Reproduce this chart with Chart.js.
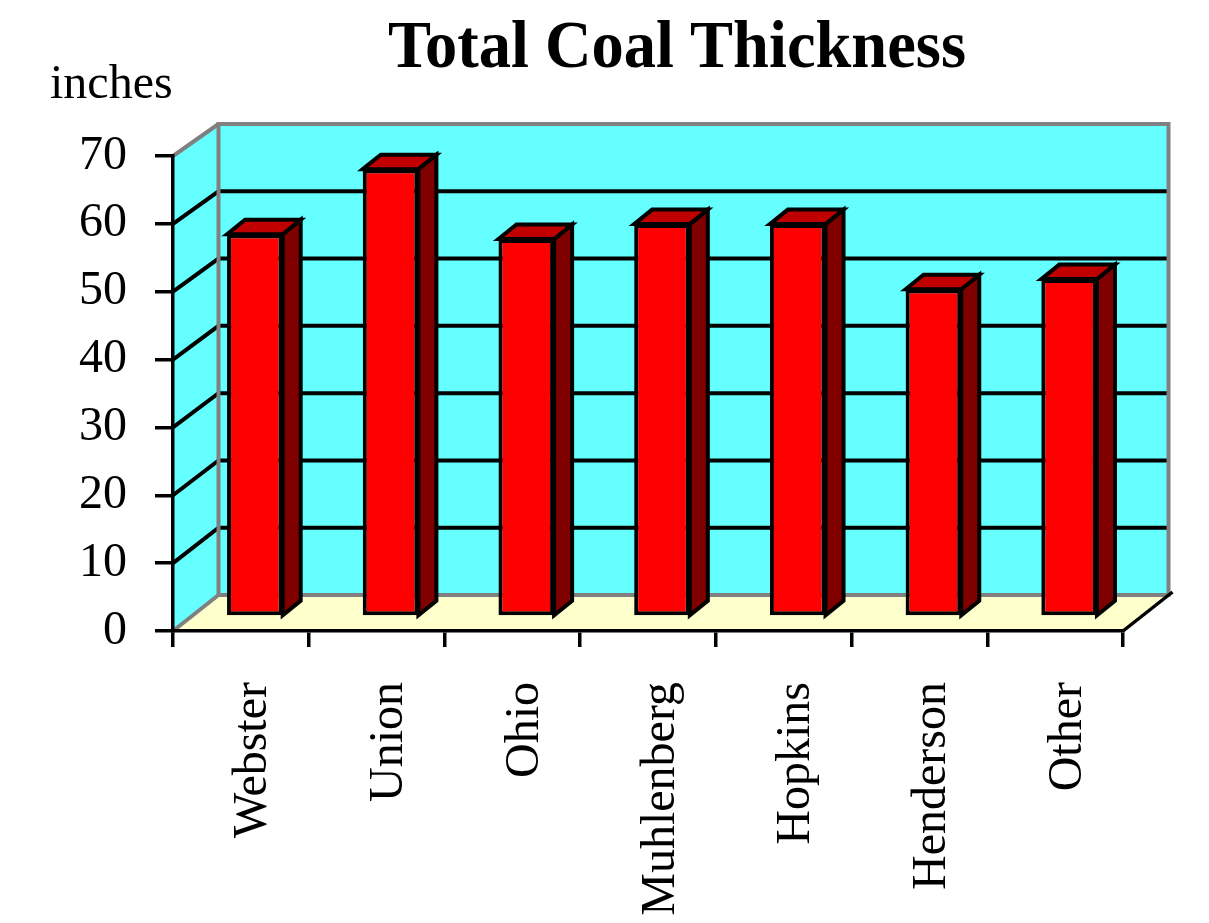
<!DOCTYPE html>
<html>
<head>
<meta charset="utf-8">
<title>Total Coal Thickness</title>
<script src="https://cdn.jsdelivr.net/npm/chart.js@4/dist/chart.umd.min.js"></script>
<style>
    html, body { margin: 0; padding: 0; background: #fff; }
    canvas { display: block; }
</style>
</head>
<body>
<canvas id="coalChart" width="1209" height="923"></canvas>
<script>
// Chart data
const counties = ['Webster', 'Union', 'Ohio', 'Muhlenberg', 'Hopkins', 'Henderson', 'Other'];
const thickness = [56.4, 66, 55.7, 57.9, 57.9, 48.3, 49.8];
const yTicks = [0, 10, 20, 30, 40, 50, 60, 70];
const chartTitle = 'Total Coal Thickness';
const unitLabel = 'inches';

// Colors
const colors = {
    front: '#FF0000',
    top: '#C00000',
    side: '#800000',
    wall: '#66FFFF',
    floor: '#FFFFCC',
    frame: '#808080',
    line: '#000000'
};

// 3D settings (pixels)
const wallDepth = { dx: 45.5, dyBottom: 36, dyTop: 32 };
const barShift = { dx: 14, dy: -14 };
const barDepth = { dx: 18, dy: -14.5 };

// y position of a front-plane pixel projected onto the back wall
function backY(area, yPix) {
    const t = (area.bottom - yPix) / (area.bottom - area.top);
    return yPix - (wallDepth.dyBottom + (wallDepth.dyTop - wallDepth.dyBottom) * t);
}

function poly(ctx, pts) {
    ctx.beginPath();
    ctx.moveTo(pts[0][0], pts[0][1]);
    for (let i = 1; i < pts.length; i++) ctx.lineTo(pts[i][0], pts[i][1]);
    ctx.closePath();
}

// Walls, floor, grid and texts
const wallsPlugin = {
    id: 'walls3d',
    beforeDraw(chart) {
        const { ctx, chartArea: a, scales: { y } } = chart;
        const bl = a.left + wallDepth.dx;
        const br = a.right + wallDepth.dx;
        const bt = backY(a, a.top);
        const bb = backY(a, a.bottom);

        ctx.save();
        // back wall
        ctx.fillStyle = colors.wall;
        ctx.fillRect(bl, bt, br - bl, bb - bt);
        // left wall
        poly(ctx, [[a.left, a.top], [bl, bt], [bl, bb], [a.left, a.bottom]]);
        ctx.fill();
        // floor
        ctx.fillStyle = colors.floor;
        poly(ctx, [[a.left, a.bottom], [a.right, a.bottom], [br, bb], [bl, bb]]);
        ctx.fill();

        // grid lines
        ctx.strokeStyle = colors.line;
        ctx.lineWidth = 4;
        yTicks.slice(1, -1).forEach(v => {
            const yf = y.getPixelForValue(v);
            const yb = backY(a, yf);
            ctx.beginPath();
            ctx.moveTo(a.left, yf);
            ctx.lineTo(bl, yb);
            ctx.lineTo(br, yb);
            ctx.stroke();
        });

        // gray frame
        ctx.strokeStyle = colors.frame;
        ctx.lineWidth = 4;
        ctx.strokeRect(bl, bt, br - bl, bb - bt);
        ctx.beginPath();
        ctx.moveTo(a.left, a.top);
        ctx.lineTo(bl, bt);
        ctx.moveTo(a.left, a.bottom);
        ctx.lineTo(bl, bb);
        ctx.stroke();

        // floor right edge
        ctx.strokeStyle = colors.line;
        ctx.lineWidth = 3.5;
        ctx.beginPath();
        ctx.moveTo(a.right, a.bottom);
        ctx.lineTo(br + 4, bb - 3);
        ctx.stroke();
        ctx.restore();
    },
    beforeDatasetsDraw(chart) {
        const { ctx } = chart;
        ctx.save();
        ctx.translate(barShift.dx, barShift.dy);
        // top and side faces, front faces are drawn by Chart.js on top
        chart.getDatasetMeta(0).data.forEach(bar => {
            const { x, y, base, width } = bar.getProps(['x', 'y', 'base', 'width'], true);
            const l = x - width / 2;
            const r = x + width / 2;
            ctx.lineWidth = 4;
            ctx.lineJoin = 'miter';
            ctx.strokeStyle = colors.line;

            ctx.fillStyle = colors.side;
            poly(ctx, [[r, y], [r + barDepth.dx, y + barDepth.dy], [r + barDepth.dx, base + barDepth.dy], [r, base]]);
            ctx.fill();
            ctx.stroke();

            ctx.fillStyle = colors.top;
            poly(ctx, [[l, y], [l + barDepth.dx, y + barDepth.dy], [r + barDepth.dx, y + barDepth.dy], [r, y]]);
            ctx.fill();
            ctx.stroke();
        });
    },
    afterDatasetsDraw(chart) {
        chart.ctx.restore();
    },
    afterDraw(chart) {
        const { ctx } = chart;
        ctx.save();
        ctx.fillStyle = '#000';
        ctx.textBaseline = 'alphabetic';

        ctx.font = 'bold 68px "Liberation Serif"';
        ctx.textAlign = 'center';
        const w = ctx.measureText(chartTitle).width;
        ctx.translate(677, 67);
        ctx.scale(578 / w, 1);
        ctx.fillText(chartTitle, 0, 0);
        ctx.setTransform(1, 0, 0, 1, 0, 0);

        ctx.font = '48px "Liberation Serif"';
        ctx.textAlign = 'left';
        ctx.fillText(unitLabel, 50, 98);
        ctx.restore();
    }
};

const labelFont = { family: 'Liberation Serif', size: 48 };

new Chart(document.getElementById('coalChart').getContext('2d'), {
    type: 'bar',
    data: {
        labels: counties,
        datasets: [{
            label: 'Thickness',
            data: thickness,
            backgroundColor: colors.front,
            borderColor: colors.line,
            borderWidth: 4,
            borderSkipped: false,
            barPercentage: 0.41,
            categoryPercentage: 1.0,
            clip: false
        }]
    },
    options: {
        responsive: false,
        animation: false,
        layout: { padding: { top: 156, right: 86, left: 0, bottom: 0 } },
        plugins: {
            legend: { display: false },
            title: { display: false },
            tooltip: { enabled: false }
        },
        scales: {
            x: {
                offset: true,
                grid: { offset: true, drawOnChartArea: false, tickLength: 16, color: colors.line, lineWidth: 3.5 },
                border: { display: true, color: colors.line, width: 3.5 },
                ticks: {
                    autoSkip: false,
                    minRotation: 90,
                    maxRotation: 90,
                    padding: 35,
                    labelOffset: 13,
                    color: '#000',
                    font: labelFont
                },
                afterFit: s => { s.height = 292; }
            },
            y: {
                min: 0,
                max: 70,
                afterBuildTicks: s => { s.ticks = yTicks.map(v => ({ value: v })); },
                grid: { drawOnChartArea: false, tickLength: 18, color: colors.line, lineWidth: 3.5 },
                border: { display: true, color: colors.line, width: 3.5 },
                ticks: { padding: 28, color: '#000', font: labelFont },
                afterFit: s => { s.width = 173; }
            }
        }
    },
    plugins: [wallsPlugin]
});
</script>
</body>
</html>
